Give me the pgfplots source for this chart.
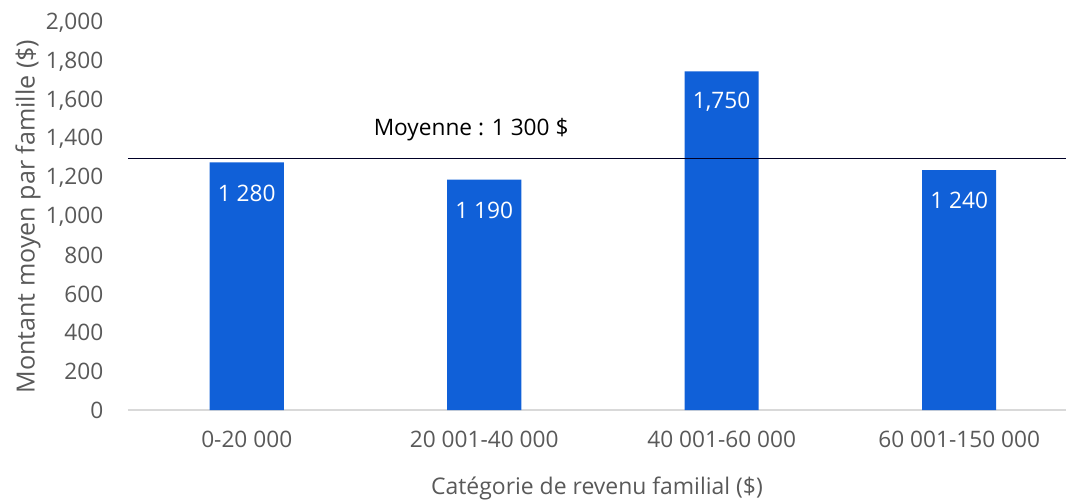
\documentclass[border=0pt]{standalone}
\usepackage{pgfplots}
\pgfplotsset{compat=1.18}
\usepackage{fontspec}
\setmainfont{Open Sans}
\definecolor{barblue}{HTML}{1060D8}
\definecolor{tickgray}{HTML}{595959}
\definecolor{axisgray}{HTML}{D9D9D9}
\begin{document}
\begin{tikzpicture}[x=0.75pt,y=0.75pt]
\path[use as bounding box] (-128,-90) rectangle (938,410);
\begin{axis}[
  at={(0,0)}, anchor=south west,
  scale only axis,
  width=703.5pt, height=290.25pt,
  xmin=-0.5, xmax=3.45,
  ymin=0, ymax=2000,
  ytick={0,200,...,2000},
  xtick={0,1,2,3},
  xticklabels={0-20 000,20 001-40 000,40 001-60 000,60 001-150 000},
  axis line style={draw=none},
  axis x line*=bottom,
  axis y line*=left,
  major tick length=0pt,
  tick style={draw=none},
  ticklabel style={font=\fontsize{17}{20}\selectfont, text=tickgray},
  xticklabel style={yshift=-12pt},
  yticklabel style={xshift=-15pt},
  /pgf/number format/.cd, 1000 sep={,}, assume math mode=true,
  /pgfplots/.cd,
  clip=false,
  ylabel={Montant moyen par famille (\$)},
  ylabel style={font=\fontsize{18.8}{22}\selectfont, text=tickgray, at={(axis description cs:0,0.5)}, anchor=center, yshift=75pt},
  xlabel={Catégorie de revenu familial (\$)},
  xlabel style={font=\fontsize{17.2}{20}\selectfont, text=tickgray, at={(axis description cs:0.5,0)}, anchor=center, yshift=-58.5pt},
]
\draw[axisgray, line width=1.2pt] (axis cs:-0.5,0) -- (axis cs:3.45,0);
\addplot[ybar, bar width=0.312, fill=barblue, draw=none,
  point meta=explicit symbolic,
  nodes near coords,
  nodes near coords style={anchor=center, yshift=-23pt, text=white, font=\fontsize{17}{20}\selectfont}]
  coordinates {(0,1280) [1 280] (1,1190) [1 190] (2,1750) [1,750] (3,1240) [1 240]};
\addplot[black!85!blue, line width=0.7pt] coordinates {(-0.5,1300) (3.45,1300)};
\node[font=\fontsize{17}{20}\selectfont, text=black] at (axis cs:0.945,1447) {Moyenne : 1 300 \$};
\end{axis}
\end{tikzpicture}
\end{document}
